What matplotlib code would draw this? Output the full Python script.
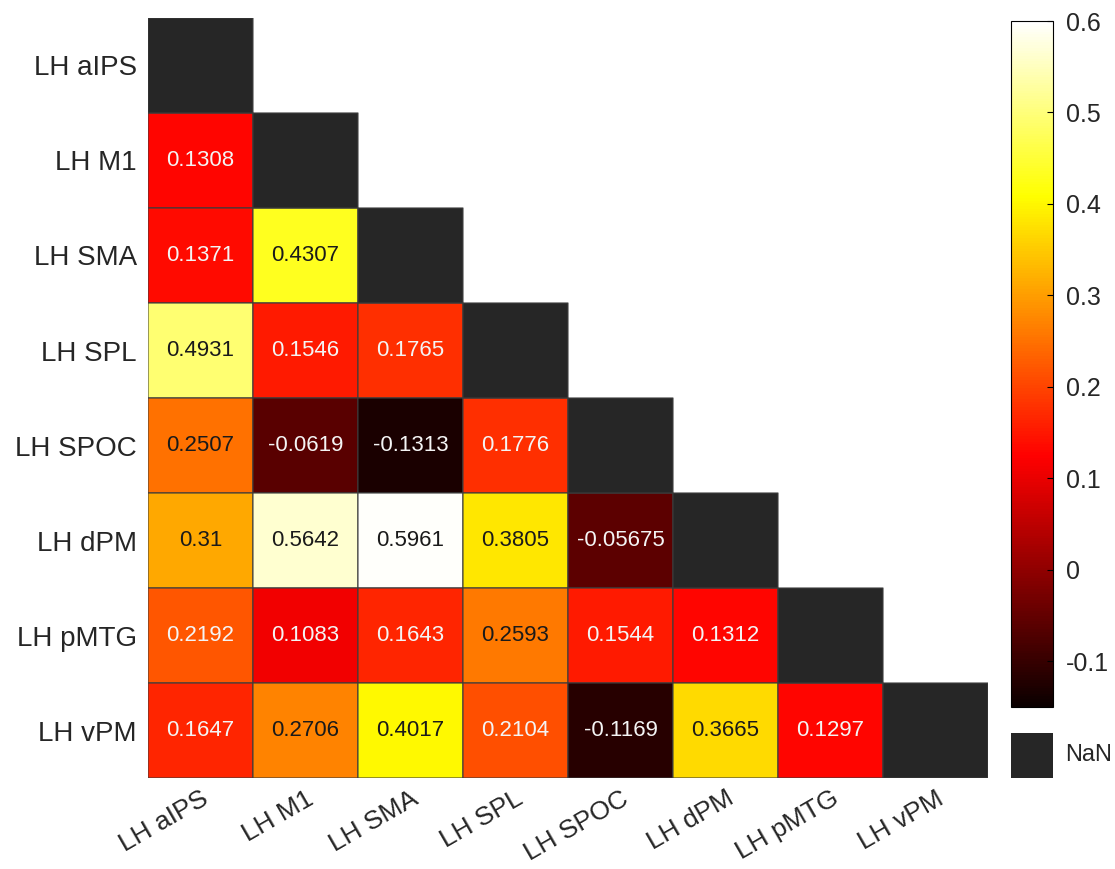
import numpy as np
import matplotlib
matplotlib.use('Agg')
import matplotlib.pyplot as plt
from matplotlib.colors import ListedColormap

plt.rcParams['font.family'] = ['Liberation Sans', 'DejaVu Sans']

regions = ['LH aIPS', 'LH M1', 'LH SMA', 'LH SPL', 'LH SPOC', 'LH dPM', 'LH pMTG', 'LH vPM']

# lower triangle, row by row (row i has i values)
row_m1 = [0.1308]
row_sma = [0.1371, 0.4307]
row_spl = [0.4931, 0.1546, 0.1765]
row_spoc = [0.2507, -0.0619, -0.1313, 0.1776]
row_dpm = [0.31, 0.5642, 0.5961, 0.3805, -0.05675]
row_pmtg = [0.2192, 0.1083, 0.1643, 0.2593, 0.1544, 0.1312]
row_vpm = [0.1647, 0.2706, 0.4017, 0.2104, -0.1169, 0.3665, 0.1297]
rows = [[], row_m1, row_sma, row_spl, row_spoc, row_dpm, row_pmtg, row_vpm]

clim = (-0.15, 0.6)
cbar_ticks = [-0.1, 0, 0.1, 0.2, 0.3, 0.4, 0.5, 0.6]

n = len(regions)
mat = np.full((n, n), np.nan)
for i, r in enumerate(rows):
    mat[i, :len(r)] = r
diag = np.full((n, n), np.nan)
np.fill_diagonal(diag, 1.0)

txt_col = '#262626'

fig = plt.figure(figsize=(11.15, 8.69), dpi=100)
ax = fig.add_axes([0.1327, 0.1047, 0.7534, 0.8746])

edge = '#3c3c3c'
mesh = ax.pcolor(np.ma.masked_invalid(mat), cmap='hot', vmin=clim[0], vmax=clim[1],
                 edgecolors=edge, linewidth=0.8)
ax.pcolor(np.ma.masked_invalid(diag), cmap=ListedColormap(['#262626']),
          edgecolors=edge, linewidth=0.8)

for i, r in enumerate(rows):
    for j, v in enumerate(r):
        col = '#f4f4f4' if v < 0.24 else '#1a1a1a'
        ax.text(j + 0.5, i + 0.5, '%.4g' % v, ha='center', va='center',
                fontsize=16, color=col)

ax.set_xlim(0, n)
ax.set_ylim(n, 0)
ax.set_xticks(np.arange(n) + 0.5)
ax.set_yticks(np.arange(n) + 0.5)
ax.set_xticklabels(regions, rotation=30, ha='right', rotation_mode='anchor',
                   fontsize=19, color=txt_col)
ax.set_yticklabels(regions, fontsize=20, color=txt_col)
ax.tick_params(axis='y', length=0, pad=8)
ax.tick_params(axis='x', length=0, pad=6)
for s in ax.spines.values():
    s.set_visible(False)

# colorbar
cax = fig.add_axes([0.9067, 0.1864, 0.0377, 0.7894])
cb = fig.colorbar(mesh, cax=cax, ticks=cbar_ticks)
cb.ax.set_yticklabels(['%g' % t for t in cbar_ticks])
cb.ax.tick_params(labelsize=18, labelcolor=txt_col, direction='in', length=4,
                  width=0.8, pad=9)
cb.outline.set_linewidth(0.8)

# NaN swatch
nax = fig.add_axes([0.9067, 0.1047, 0.0377, 0.052])
nax.set_facecolor('#262626')
nax.set_xticks([])
nax.set_yticks([])
for s in nax.spines.values():
    s.set_visible(False)
nax.text(1.28, 0.5, 'NaN', transform=nax.transAxes, ha='left', va='center',
         fontsize=17, color=txt_col)

fig.savefig('out.png', dpi=100)
